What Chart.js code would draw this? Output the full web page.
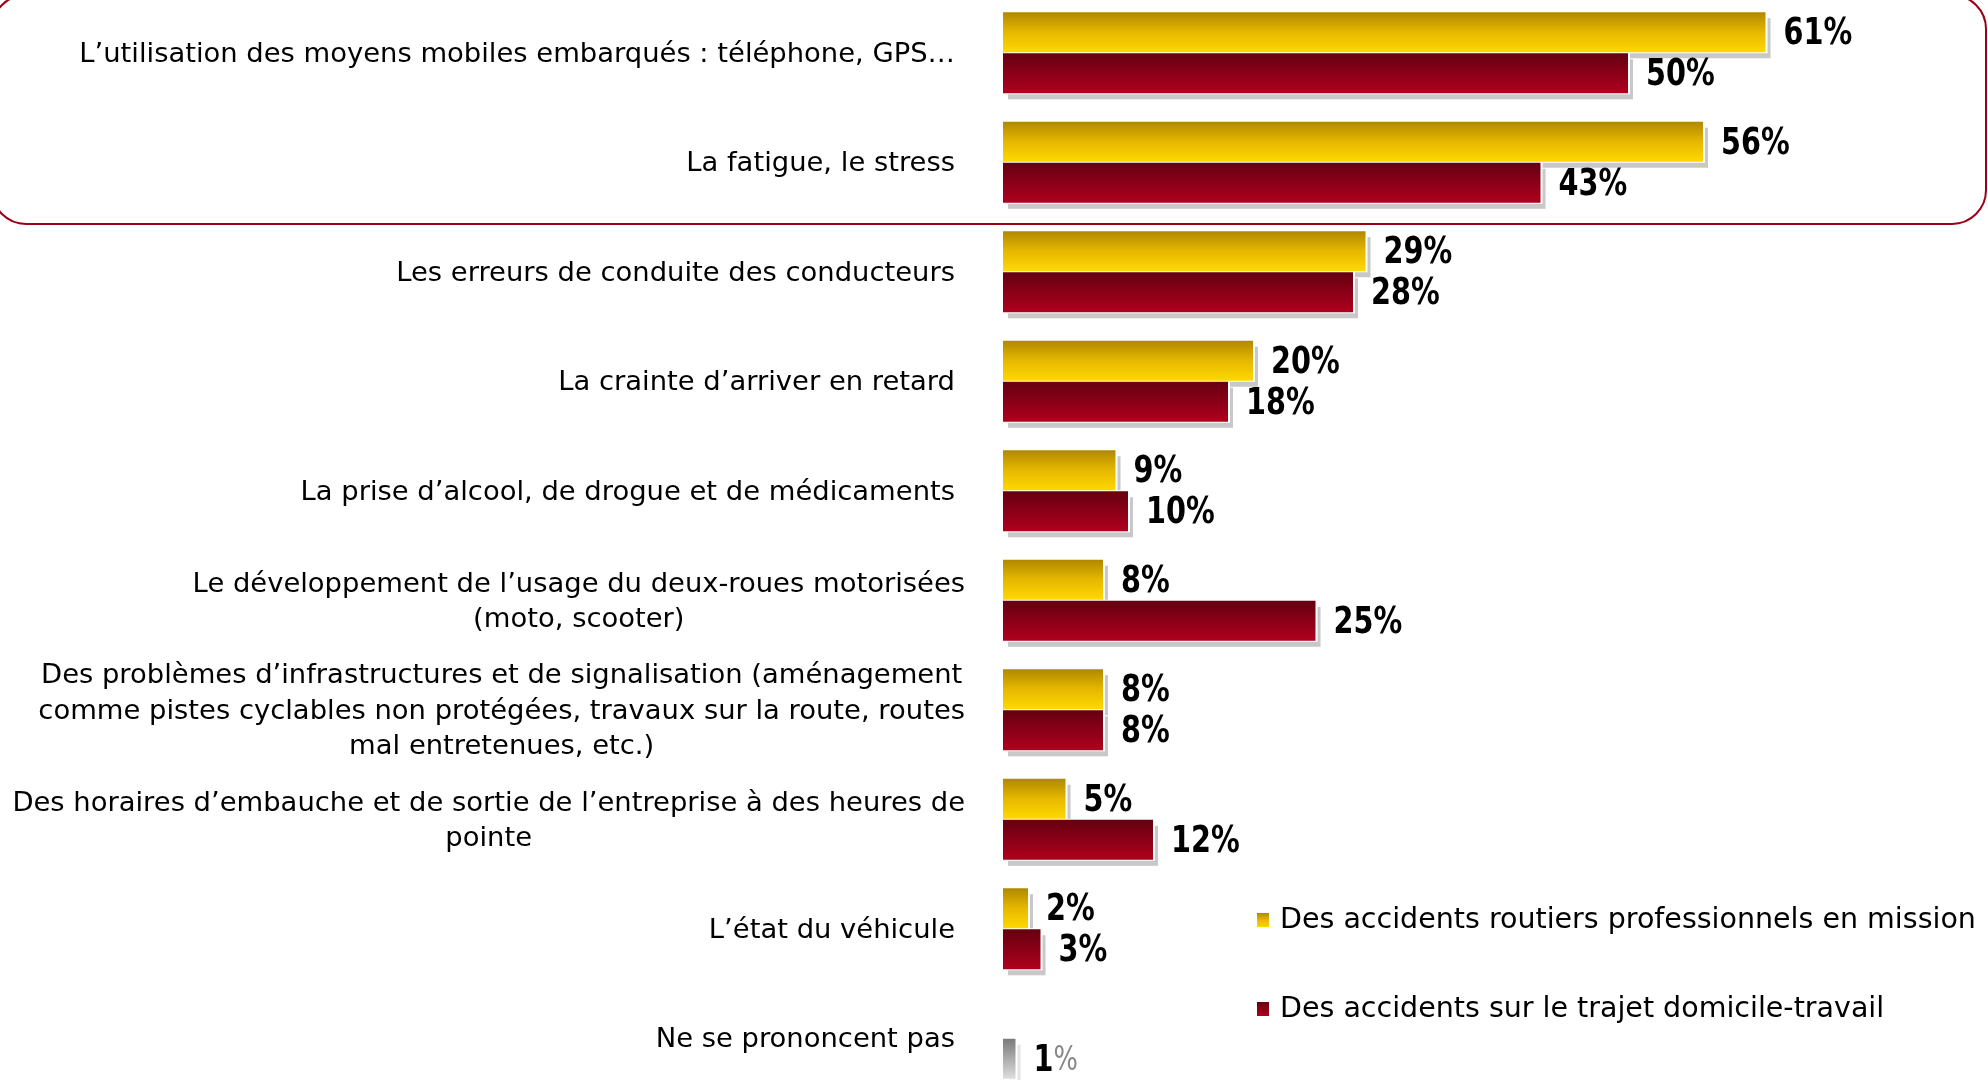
<!DOCTYPE html>
<html>
<head>
<meta charset="utf-8">
<script src="https://cdn.jsdelivr.net/npm/chart.js@4"></script>
<style>
  html, body { margin: 0; padding: 0; background: #fff; overflow: hidden; }
  #wrap { position: absolute; left: 0; top: -2px; width: 1988px; height: 1095px; }
</style>
</head>
<body>
<div id="wrap"><canvas id="chart"></canvas></div>
<script>
// categories (one entry per line of the label)
const categories = [
    ['L\u2019utilisation des moyens mobiles embarqu\u00e9s : t\u00e9l\u00e9phone, GPS\u2026'],
    ['La fatigue, le stress'],
    ['Les erreurs de conduite des conducteurs'],
    ['La crainte d\u2019arriver en retard'],
    ['La prise d\u2019alcool, de drogue et de m\u00e9dicaments'],
    ['Le d\u00e9veloppement de l\u2019usage du deux-roues motoris\u00e9es', '(moto, scooter)'],
    ['Des probl\u00e8mes d\u2019infrastructures et de signalisation (am\u00e9nagement', 'comme pistes cyclables non prot\u00e9g\u00e9es, travaux sur la route, routes', 'mal entretenues, etc.)'],
    ['Des horaires d\u2019embauche et de sortie de l\u2019entreprise \u00e0 des heures de', 'pointe'],
    ['L\u2019\u00e9tat du v\u00e9hicule'],
    ['Ne se prononcent pas']
];
const seriesLabels = ['Des accidents routiers professionnels en mission', 'Des accidents sur le trajet domicile-travail'];
const missionValues = [61, 56, 29, 20, 9, 8, 8, 5, 2, null];
const trajetValues = [50, 43, 28, 18, 10, 25, 8, 12, 3, 1];
const noAnswerIndex = 9; // last row is drawn in grey

const LABEL_FONT = '27.4px "DejaVu Sans"';
const LEGEND_FONT = '28.5px "DejaVu Sans"';
const VALUE_FONT = 'bold 38px "DejaVu Sans Condensed"';

function barGradient(ctx, top, bottom, kind) {
    const g = ctx.createLinearGradient(0, top, 0, bottom);
    if (kind === 'yellow') {
        g.addColorStop(0, '#b08800');
        g.addColorStop(0.5, '#e6b800');
        g.addColorStop(1, '#ffd800');
    } else if (kind === 'red') {
        g.addColorStop(0, '#650010');
        g.addColorStop(1, '#b0001e');
    } else {
        g.addColorStop(0, '#7a7a7a');
        g.addColorStop(1, '#dedede');
    }
    return g;
}
function kindOf(dsIndex, i) {
    if (dsIndex === 0) return 'yellow';
    return i === noAnswerIndex ? 'grey' : 'red';
}

const barStyle = {
    id: 'barStyle',
    beforeDatasetsDraw(chart) {
        const ctx = chart.ctx;
        // rounded frame around the first two rows
        ctx.save();
        ctx.strokeStyle = '#9a0018';
        ctx.lineWidth = 2;
        ctx.beginPath();
        ctx.roundRect(-8, -3, 1994, 229, 34);
        ctx.stroke();
        ctx.restore();

        // shadows first, then gradients on every bar
        chart.data.datasets.forEach((ds, d) => {
            const meta = chart.getDatasetMeta(d);
            meta.data.forEach((el, i) => {
                if (ds.data[i] == null) return;
                const top = el.y - el.height / 2;
                ctx.save();
                ctx.fillStyle = i === noAnswerIndex ? '#e4e4e4' : '#c8c8c8';
                ctx.fillRect(el.base + 5, top + 6, el.x - el.base, el.height);
                ctx.fillStyle = '#fff';
                ctx.fillRect(el.base, top - 1, el.x - el.base + 2, el.height + 2);
                ctx.restore();
                el.options.backgroundColor = barGradient(ctx, top, top + el.height, kindOf(d, i));
            });
        });
    },
    afterDatasetsDraw(chart) {
        const ctx = chart.ctx;
        ctx.save();
        ctx.textBaseline = 'middle';
        ctx.textAlign = 'left';
        // value labels, narrowed like the original condensed font
        const sx = 0.84;
        chart.data.datasets.forEach((ds, d) => {
            const meta = chart.getDatasetMeta(d);
            meta.data.forEach((el, i) => {
                if (ds.data[i] == null) return;
                ctx.save();
                ctx.translate(el.x + 18, el.y + 2);
                ctx.scale(sx, 1);
                ctx.font = VALUE_FONT;
                ctx.fillStyle = '#000';
                const num = String(ds.data[i]);
                ctx.fillText(num, 0, 0);
                const w = ctx.measureText(num).width;
                if (i === noAnswerIndex) {
                    ctx.font = '34px "DejaVu Sans Condensed"';
                    ctx.fillStyle = '#888';
                }
                ctx.fillText('%', w, 0);
                ctx.restore();
            });
        });

        // category labels, aligned on the y scale
        const y = chart.scales.y;
        ctx.font = LABEL_FONT;
        ctx.fillStyle = '#000';
        const lineH = 35.5;
        categories.forEach((lines, i) => {
            const cy = y.getPixelForValue(i) + 2;
            const y0 = cy - (lines.length - 1) * lineH / 2;
            if (lines.length === 1) {
                ctx.textAlign = 'right';
                ctx.fillText(lines[0], 955, y0);
            } else {
                const w = Math.max(...lines.map(l => ctx.measureText(l).width));
                ctx.textAlign = 'center';
                lines.forEach((l, k) => ctx.fillText(l, 965 - w / 2, y0 + k * lineH));
            }
        });

        // legend
        ctx.textAlign = 'left';
        ctx.font = LEGEND_FONT;
        const legendY = [922, 1011];
        seriesLabels.forEach((lab, d) => {
            const ly = legendY[d];
            ctx.fillStyle = barGradient(ctx, ly - 7, ly + 7, d === 0 ? 'yellow' : 'red');
            ctx.fillRect(1257, ly - 7, 12, 14);
            ctx.fillStyle = '#000';
            ctx.fillText(lab, 1280, ly + 1);
        });
        ctx.restore();
    }
};

new Chart(document.getElementById('chart'), {
    type: 'bar',
    data: {
        labels: categories.map(l => l.join(' ')),
        datasets: [
            {
                label: seriesLabels[0],
                data: missionValues,
                backgroundColor: () => '#f0c000',
                borderWidth: 0
            },
            {
                label: seriesLabels[1],
                data: trajetValues,
                backgroundColor: (c) => c.dataIndex === noAnswerIndex ? '#aaaaaa' : '#900018',
                borderWidth: 0
            }
        ]
    },
    options: {
        indexAxis: 'y',
        responsive: true,
        maintainAspectRatio: false,
        animation: false,
        categoryPercentage: 0.75,
        barPercentage: 0.975,
        layout: { padding: { left: 1003, right: 10, top: 0, bottom: 0 } },
        plugins: {
            legend: { display: false },
            tooltip: { enabled: false }
        },
        scales: {
            x: { display: false, min: 0, max: 78 },
            y: { display: false }
        }
    },
    plugins: [barStyle]
});
</script>
</body>
</html>
